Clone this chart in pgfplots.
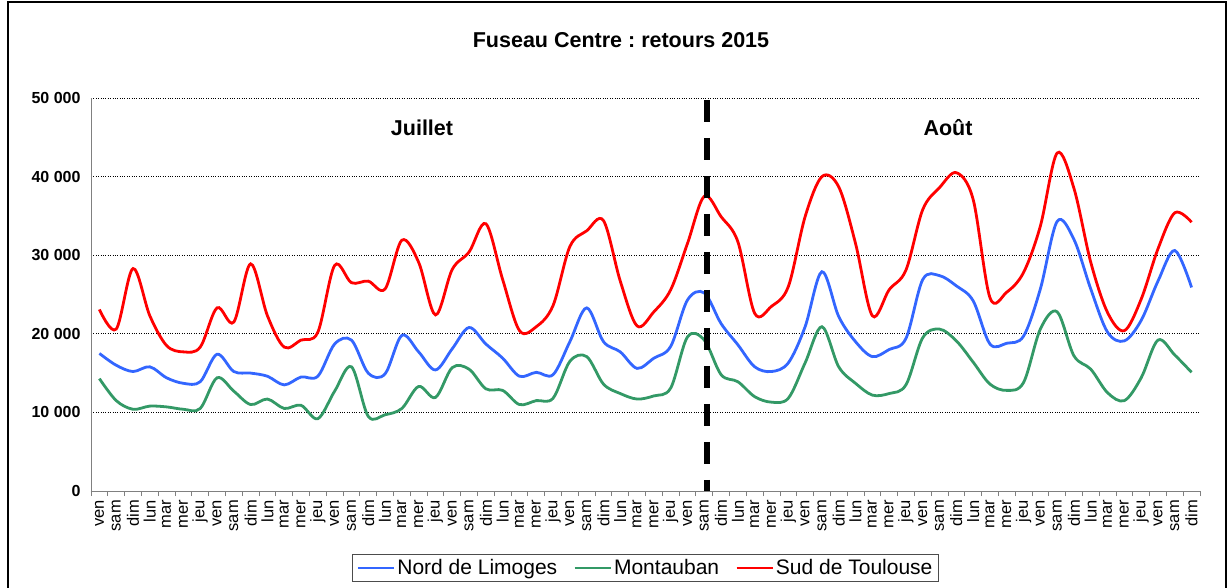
\documentclass[border=0pt]{standalone}
\usepackage{fontspec}
\setmainfont{Liberation Sans}
\usepackage{pgfplots}
\usepackage{pgfplotstable}
\pgfplotsset{compat=1.18}
\frenchspacing

\definecolor{cblue}{RGB}{51,102,255}
\definecolor{cgreen}{RGB}{51,153,102}
\definecolor{cred}{RGB}{255,0,0}

% i = day index (ven 0 ... dim 65)
\pgfplotstableread{
i  limoges  montauban  toulouse
0  17500 14300 23100
1  16000 11500 20600
2  15200 10400 28300
3  15800 10800 22300
4  14400 10700 18500
5  13700 10400 17700
6  13900 10500 18300
7  17400 14400 23300
8  15200 12700 21500
9  15000 11000 28900
10 14600 11700 22300
11 13500 10500 18300
12 14500 10900 19200
13 14600  9200 20200
14 18700 12700 28700
15 19200 15800 26500
16 15000  9500 26700
17 14900  9700 25700
18 19800 10500 31900
19 17700 13300 29100
20 15400 11900 22400
21 18100 15700 28200
22 20800 15500 30400
23 18700 13000 34000
24 16900 12800 26900
25 14600 11000 20400
26 15100 11500 20900
27 14800 11800 23600
28 19000 16500 31100
29 23300 17100 33100
30 19000 13600 34400
31 17700 12400 26700
32 15600 11700 21000
33 16900 12100 22800
34 18400 13100 25600
35 24300 19600 31500
36 25200 19200 37500
37 21300 14800 34900
38 18600 13900 31700
39 15800 12000 22600
40 15200 11300 23500
41 16300 11800 26000
42 20900 16300 34900
43 27900 20900 40000
44 22200 15800 38700
45 19000 13700 31500
46 17100 12200 22300
47 18000 12400 25600
48 19400 13500 28100
49 26900 19500 35800
50 27400 20600 38600
51 26100 19100 40500
52 24200 16400 37100
53 18700 13600 24600
54 18800 12800 25300
55 19700 13800 27800
56 25700 20600 33700
57 34300 22800 43000
58 32000 17200 38500
59 25700 15500 29100
60 20200 12500 22700
61 19100 11500 20400
62 21700 14400 24400
63 26700 19200 30800
64 30600 17300 35400
65 25900 15100 34200
}\datatable

\begin{document}
\begin{tikzpicture}
\useasboundingbox (-91bp,-97bp) rectangle (1138bp,491bp);
\begin{axis}[
  scale only axis,
  width=1109bp, height=393bp,
  xmin=-0.5, xmax=65.5,
  ymin=0, ymax=50000,
  scaled y ticks=false,
  axis lines*=left,
  axis line style={gray, line width=0.8bp},
  ytick={0,10000,20000,30000,40000,50000},
  yticklabels={\textbf{0},\textbf{10 000},\textbf{20 000},\textbf{30 000},\textbf{40 000},\textbf{50 000}},
  yticklabel style={font=\fontsize{16bp}{18bp}\selectfont, xshift=-7bp},
  ymajorgrids,
  major grid style={black, dotted, line width=0.7bp},
  xtick={0,...,65},
  xticklabels={ven,sam,dim,lun,mar,mer,jeu,ven,sam,dim,lun,mar,mer,jeu,
               ven,sam,dim,lun,mar,mer,jeu,ven,sam,dim,lun,mar,mer,jeu,
               ven,sam,dim,lun,mar,mer,jeu,ven,sam,dim,lun,mar,mer,jeu,
               ven,sam,dim,lun,mar,mer,jeu,ven,sam,dim,lun,mar,mer,jeu,
               ven,sam,dim,lun,mar,mer,jeu,ven,sam,dim},
  xticklabel style={rotate=90, anchor=east, inner sep=0bp,
                    font=\fontsize{16.5bp}{18bp}\selectfont},
  xticklabel shift=9bp,
  major tick length=0bp,
  minor xtick={-0.5,0.5,...,65.5},
  minor tick length=5bp,
  tick align=outside,
  minor tick style={gray, line width=0.8bp},
  legend style={at={(0.5,-0.196)}, anchor=center, legend columns=-1,
                draw=black!70, line width=0.8bp,
                font=\fontsize{21bp}{23bp}\selectfont,
                inner xsep=4bp, inner ysep=3bp,
                /tikz/every even column/.append style={column sep=14bp}},
  legend image code/.code={\draw[#1, line width=2.8bp] (0bp,0bp) -- (36bp,0bp);},
  every axis plot/.append style={line width=2.8bp, smooth, tension=0.55, no markers},
]
\addplot[cblue] table[x=i, y=limoges] {\datatable};
\addplot[cgreen] table[x=i, y=montauban] {\datatable};
\addplot[cred] table[x=i, y=toulouse] {\datatable};
\legend{Nord de Limoges, Montauban, Sud de Toulouse}
\draw[black, line width=6bp, dash pattern=on 22bp off 16bp]
  (axis cs:36.15,49750) -- (axis cs:36.15,0);
\end{axis}
\node[font=\fontsize{21.5bp}{23bp}\selectfont\bfseries] at (530bp,451bp) {Fuseau Centre : retours 2015};
\node[font=\fontsize{21.5bp}{23bp}\selectfont\bfseries] at (331bp,363bp) {Juillet};
\node[font=\fontsize{21.5bp}{23bp}\selectfont\bfseries] at (857bp,363bp) {Août};
\draw[black, line width=1.2bp] (-83bp,-100bp) -- (-83bp,489bp) -- (1135bp,489bp) -- (1135bp,-100bp);
\end{tikzpicture}
\end{document}
